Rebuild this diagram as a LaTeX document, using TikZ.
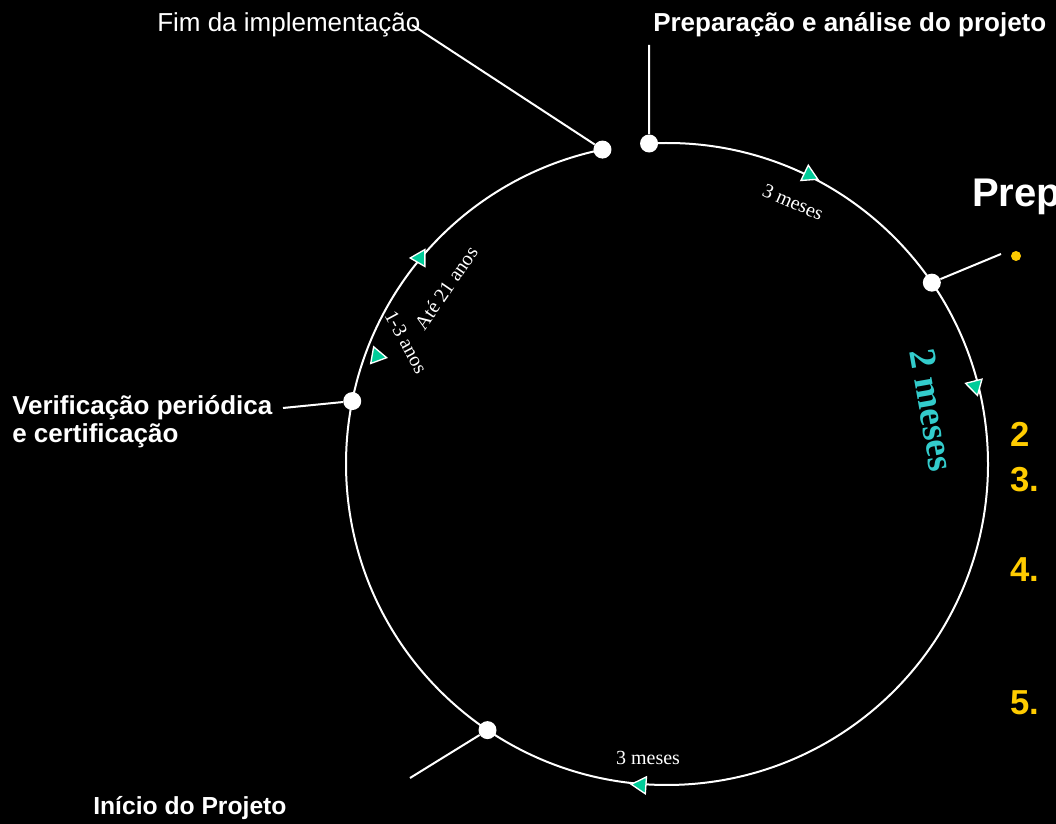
\documentclass[tikz,border=0pt]{standalone}
\usepackage{fontspec}
\setmainfont{Liberation Sans}
\newfontfamily\timesf{Liberation Serif}
\usetikzlibrary{calc}
\definecolor{arrowgreen}{RGB}{0,204,153}
\definecolor{tealtext}{RGB}{51,204,204}
\definecolor{goldtext}{RGB}{255,204,0}
\tikzset{
  ring/.style={draw=white, line width=1.5pt},
  dotnode/.style={circle, fill=white, inner sep=0pt, minimum size=13.5pt},
  link/.style={draw=white, line width=1.5pt},
  lbl/.style={text=white, inner sep=0pt, font=\fontsize{19.5}{18}\selectfont},
  lblb/.style={text=white, inner sep=0pt, font=\bfseries\fontsize{19.5}{21}\selectfont},
  dur/.style={text=white, inner sep=0pt, font=\timesf\fontsize{15}{18}\selectfont},
  tri/.style={fill=arrowgreen, draw=white, line width=1pt},
  num/.style={text=goldtext, inner sep=0pt, anchor=base west, font=\bfseries\fontsize{26}{30}\selectfont},
}
\newcommand\arrowtri[2]{\filldraw[tri] ($(#1)+(#2:9.8)$) -- ($(#1)+(#2+120:9.8)$) -- ($(#1)+(#2+240:9.8)$) -- cycle;}
\begin{document}
\begin{tikzpicture}[x=0.75pt,y=0.75pt]
\useasboundingbox (0,0) rectangle (1056,824);
\fill[black] (0,0) rectangle (1056,824);
\clip (0,0) rectangle (1056,824);
\coordinate (C) at (667,360);
% main ring with a gap at the top
\draw[ring] ($(C)+(93.2:321)$) arc[start angle=93.2, end angle=-258.5, radius=240.75pt];
% arrowheads
\arrowtri{809,649}{-25.7}
\arrowtri{975,438}{-75.6}
\arrowtri{641,39}{176}
\arrowtri{377,468}{-10}
\arrowtri{420,566}{180}
% dots
\node[dotnode] (dPrep) at ($(C)+(93.2:321)$) {};
\node[dotnode] (dFim) at ($(C)+(101.6:321)$) {};
\node[dotnode] (dRight) at ($(C)+(34.4:321)$) {};
\node[dotnode] (dVerif) at ($(C)+(168.7:321)$) {};
\node[dotnode] (dIni) at ($(C)+(236:321)$) {};
% labels
\node[lbl, anchor=base west] (tFim) at (157,792) {Fim da implementação};
\node[lblb, anchor=base west] (tPrep) at (653,792) {Preparação e análise do projeto};
\node[lblb, anchor=base west, align=left] (tVerif) at (12,381) {Verificação periódica\\e certificação};
\node[lblb, anchor=base west, font=\bfseries\fontsize{18.5}{18}\selectfont] (tIni) at (93,9) {Início do Projeto};
\node[text=white, inner sep=0pt, anchor=base west, font=\bfseries\fontsize{30}{34}\selectfont] (tPrepBig) at (972,617) {Prep};
% connector end points
\coordinate (cFim) at (412,799);
\coordinate (cPrep) at (649,779);
\coordinate (cVerif) at (283,416);
\coordinate (cIni) at (410,46);
\coordinate (cRight) at (1001,570);
\draw[link] (cFim) -- (dFim);
\draw[link] (cPrep) -- (dPrep);
\draw[link] (cVerif) -- (dVerif);
\draw[link] (cIni) -- (dIni);
\draw[link] (dRight) -- (cRight);
% yellow bullet and numbers
\node[circle, fill=goldtext, inner sep=0pt, minimum size=7.5pt] (bullet) at (1016,568) {};
\node[num] (n2) at (1010,377) {2};
\node[num] (n3) at (1010,332) {3.};
\node[num] (n4) at (1010,242) {4.};
\node[num] (n5) at (1010,109) {5.};
% durations
\node[dur, rotate=-23.7] (d1) at (793,622) {3 meses};
\node[text=tealtext, inner sep=0pt, rotate=-80, font=\timesf\bfseries\fontsize{28.5}{32}\selectfont] (d2) at (932,414) {2 meses};
\node[dur, anchor=base] (d3) at (648,59) {3 meses};
\node[dur, rotate=55.5] (d4) at (446,536) {Até 21 anos};
\node[dur, rotate=-61.6] (d5) at (406,482) {1-3 anos};
\end{tikzpicture}
\end{document}
